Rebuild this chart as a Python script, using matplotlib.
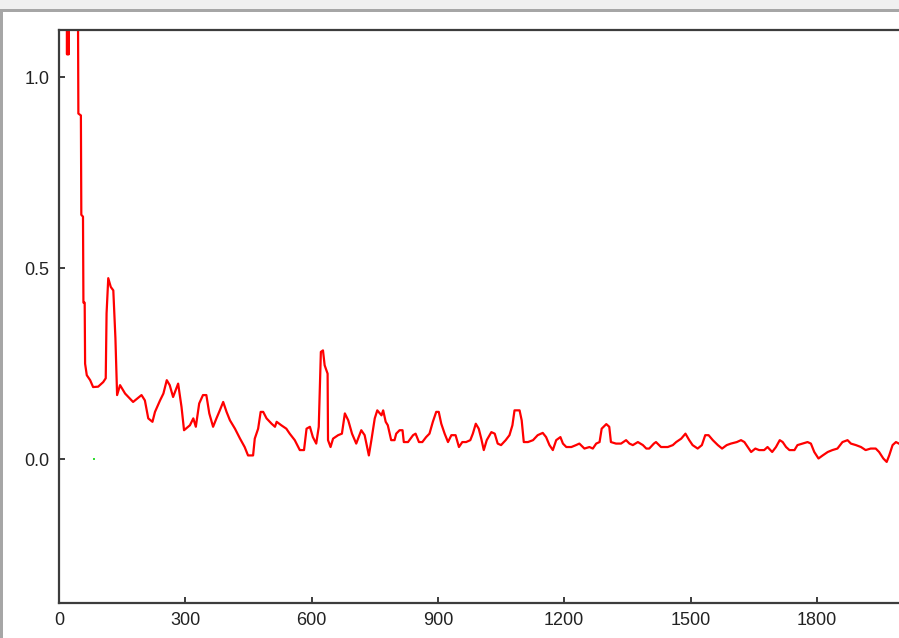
import matplotlib
matplotlib.use("Agg")
import matplotlib.pyplot as plt
from matplotlib.patches import Rectangle

# trace (x = sample index, y = value)
trace_x = [0, 18, 19, 20, 21, 22, 23, 24, 44, 46, 52, 53, 57, 58, 61, 62,
           66, 74, 81, 93, 105, 111, 113, 117, 123, 129, 134, 138,
           145, 157, 176, 196, 204, 212, 222, 228, 240, 248, 256, 263, 271,
           283, 291, 297, 311, 319, 325, 333, 342, 350, 357, 366, 374, 382,
           390, 398, 406, 418, 430, 441, 449, 461, 465, 473, 479, 485, 493,
           505, 513, 517, 528, 540, 548, 560, 572, 582, 588, 596, 603, 611,
           617, 622, 627, 631, 638, 639, 645, 651, 663, 672, 679, 687, 696,
           706, 718, 726, 736, 742, 750, 756, 766, 770, 776, 781, 789, 797,
           801, 809, 816, 819, 829, 841, 847, 855, 863, 872, 880, 888, 896,
           902, 908, 916, 924, 932, 942, 950, 958, 967, 977, 983, 990, 997,
           1003, 1009, 1016, 1027, 1035, 1042, 1050, 1061, 1070, 1077, 1082,
           1094, 1099, 1104, 1114, 1126, 1137, 1149, 1157, 1165, 1173, 1181,
           1191, 1197, 1205, 1217, 1228, 1236, 1248, 1260, 1268, 1276, 1284,
           1289, 1300, 1307, 1311, 1323, 1335, 1347, 1355, 1363, 1375, 1387,
           1395, 1402, 1413, 1418, 1430, 1446, 1458, 1466, 1478, 1488, 1497,
           1505, 1517, 1527, 1535, 1543, 1553, 1565, 1575, 1586, 1596, 1610,
           1620, 1628, 1636, 1644, 1654, 1663, 1675, 1683, 1694, 1703, 1712,
           1719, 1727, 1735, 1747, 1754, 1766, 1778, 1786, 1794, 1804, 1814,
           1826, 1837, 1849, 1861, 1873, 1881, 1893, 1905, 1916, 1928, 1940,
           1948, 1958, 1966, 1972, 1980, 1988, 1995]
trace_y = [1.5, 1.5, 1.06, 1.5, 1.06, 1.5, 1.06, 1.5, 1.5, 0.905, 0.9, 0.64,
           0.635, 0.41, 0.41, 0.25,
           0.22, 0.207, 0.189, 0.19, 0.202, 0.212, 0.382, 0.474, 0.451, 0.442,
           0.317, 0.168,
           0.194, 0.172, 0.15, 0.168, 0.154, 0.107, 0.098, 0.124, 0.154, 0.172,
           0.207, 0.194, 0.163,
           0.198, 0.137, 0.076, 0.089, 0.107, 0.085, 0.146, 0.168, 0.168, 0.12,
           0.085, 0.107, 0.128,
           0.15, 0.124, 0.102, 0.08, 0.054, 0.032, 0.01, 0.01, 0.054, 0.08,
           0.124, 0.124, 0.107,
           0.093, 0.085, 0.098, 0.089, 0.08, 0.067, 0.05, 0.024, 0.024, 0.08,
           0.085, 0.058, 0.041,
           0.085, 0.281, 0.285, 0.246, 0.224, 0.05, 0.032, 0.054, 0.063, 0.067,
           0.12, 0.102, 0.067,
           0.041, 0.076, 0.063, 0.01, 0.05, 0.107, 0.128, 0.115, 0.128, 0.098,
           0.089, 0.05, 0.05,
           0.067, 0.076, 0.076, 0.045, 0.045, 0.063, 0.067, 0.045, 0.045, 0.058,
           0.067, 0.098, 0.124,
           0.124, 0.093, 0.067, 0.045, 0.063, 0.063, 0.032, 0.045, 0.045, 0.05,
           0.067, 0.093, 0.08,
           0.054, 0.024, 0.05, 0.071, 0.067, 0.041, 0.037, 0.05, 0.063, 0.089,
           0.128,
           0.128, 0.102, 0.045, 0.045, 0.05, 0.063, 0.069, 0.058, 0.037, 0.024,
           0.05,
           0.058, 0.041, 0.032, 0.032, 0.037, 0.041, 0.028, 0.032, 0.028, 0.041,
           0.045,
           0.08, 0.092, 0.085, 0.045, 0.041, 0.041, 0.05, 0.041, 0.037, 0.045,
           0.037,
           0.028, 0.028, 0.041, 0.045, 0.032, 0.032, 0.037, 0.045, 0.054, 0.067,
           0.05,
           0.037, 0.028, 0.037, 0.063, 0.063, 0.05, 0.037, 0.028, 0.037, 0.041,
           0.045,
           0.05, 0.045, 0.032, 0.019, 0.028, 0.024, 0.024, 0.032, 0.019, 0.032,
           0.05,
           0.045, 0.032, 0.024, 0.024, 0.037, 0.041, 0.045, 0.041, 0.019, 0.002,
           0.01,
           0.019, 0.024, 0.028, 0.045, 0.05, 0.041, 0.037, 0.032, 0.024, 0.028,
           0.028,
           0.019, 0.002, -0.007, 0.01, 0.037, 0.045, 0.041]

# single green point near the origin
dot_x = [83]
dot_y = [0.0]

x_ticks = [0, 300, 600, 900, 1200, 1500, 1800]
y_ticks = [0.0, 0.5, 1.0]

W, H = 899, 638
fig = plt.figure(figsize=(W / 100, H / 100), dpi=100)
fig.patch.set_facecolor("white")

# window chrome around the plot
fig.add_artist(Rectangle((0, 1 - 9 / H), 1, 9 / H, transform=fig.transFigure,
                         facecolor="#f0f0f0", edgecolor="none"))
fig.add_artist(Rectangle((0, 1 - 12 / H), 1, 3 / H, transform=fig.transFigure,
                         facecolor="#a6a6a6", edgecolor="none"))
fig.add_artist(Rectangle((0, 0), 3 / W, 1 - 12 / H, transform=fig.transFigure,
                         facecolor="#a6a6a6", edgecolor="none"))

left, right = 59 / W, 901 / W
bottom, top = (H - 602.5) / H, (H - 29.5) / H
ax = fig.add_axes([left, bottom, right - left, top - bottom])

ax.plot(trace_x, trace_y, color="#ff0000", linewidth=1.6)
ax.plot(dot_x, dot_y, "s", color="#33dd33", markersize=1.5, markeredgewidth=0)

ax.set_xlim(0, 2000)
ax.set_ylim(-0.375, 1.125)
ax.set_xticks(x_ticks)
ax.set_xticklabels([str(t) for t in x_ticks])
ax.set_yticks(y_ticks)
ax.set_yticklabels([f"{t:.1f}" for t in y_ticks])

for side in ["left", "bottom", "top"]:
    ax.spines[side].set_color("#3c3c3c")
    ax.spines[side].set_linewidth(1.6)
ax.spines["right"].set_visible(False)

ax.tick_params(direction="in", length=4.5, width=1.4, color="#3c3c3c",
               labelsize=13, labelcolor="#222222", pad=7)
for lab in ax.get_xticklabels() + ax.get_yticklabels():
    lab.set_fontfamily("Liberation Sans")

fig.savefig("out.png", dpi=100)
